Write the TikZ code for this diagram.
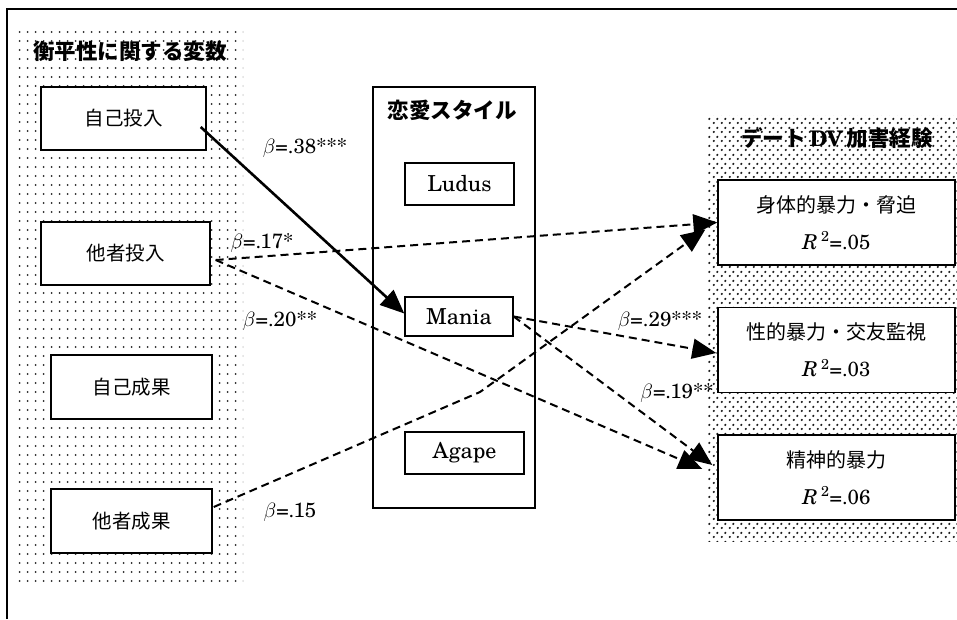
\documentclass[tikz,border=0pt]{standalone}
\usepackage{fontspec}
% Century-like serif for the Latin text
\setmainfont{texgyreschola-regular.otf}[
  BoldFont=texgyreschola-bold.otf,
  ItalicFont=texgyreschola-italic.otf,
  BoldItalicFont=texgyreschola-bolditalic.otf]
\newfontfamily\jp{Noto Sans CJK JP}
\usetikzlibrary{arrows.meta,patterns.meta,calc}

% grid of dots for the left panel
\tikzdeclarepattern{
  name=sparsedots,
  type=uncolored,
  bounding box={(0pt,0pt) and (8pt,8.5pt)},
  tile size={(8pt,8.5pt)},
  code={\fill (4pt,4.25pt) circle[radius=1.1pt];}
}
% staggered, denser dots for the right panel
\tikzdeclarepattern{
  name=densedots,
  type=uncolored,
  bounding box={(0pt,0pt) and (8pt,9pt)},
  tile size={(8pt,9pt)},
  code={\fill (2pt,2.25pt) circle[radius=1.35pt];
        \fill (6pt,6.75pt) circle[radius=1.35pt];}
}

\newcommand{\rsq}[1]{\textit{R}\,\textsuperscript{2}=.#1}

\begin{document}
\begin{tikzpicture}[x=1pt,y=-1pt,
  box/.style={draw, line width=1.4pt, fill=white, inner sep=0pt, align=center},
  jpbox/.style={box, font=\jp\fontsize{19.5}{23}\selectfont},
  latbox/.style={box, font=\fontsize{22}{26}\selectfont},
  outbox/.style={box, minimum width=237pt, minimum height=85pt,
                 font=\fontsize{20.5}{37}\selectfont},
  paneltitle/.style={font=\jp\bfseries\fontsize{21.5}{25}\selectfont, inner sep=0pt},
  coef/.style={font=\fontsize{20.5}{24}\selectfont, inner sep=0pt},
  head/.style={-{Triangle[length=24pt,width=20pt]}},
  solidlink/.style={head, line width=2.6pt},
  dashlink/.style={head, line width=2pt, dash pattern=on 8pt off 5pt}
]
\useasboundingbox (0,0) rectangle (957,619);

% outer frame (top and left edges)
\draw[line width=1.6pt] (7,619) -- (7,9) -- (957,9);

% dotted panels
\fill[pattern=sparsedots, pattern color=black!85] (18,30) rectangle (243,585);
\fill[pattern=densedots, pattern color=black!90] (707,115) rectangle (957,541);

% panel titles
\node[paneltitle] (ttl1) at (130,51) {衡平性に関する変数};
\node[paneltitle] (ttl3) at (837,138) {デート\,{\rmfamily\bfseries DV}\,加害経験};

% love-style frame
\draw[line width=1.4pt] (373,87) rectangle (535,508);
\node[paneltitle] (ttl2) at (452,110) {恋愛スタイル};

% equity variables
\node[jpbox, minimum width=165pt, minimum height=63pt] (ji) at (123.5,118.5) {自己投入};
\node[jpbox, minimum width=169pt, minimum height=63pt] (ta) at (125.5,253.5) {他者投入};
\node[jpbox, minimum width=161pt, minimum height=64pt] (jk) at (131.5,387) {自己成果};
\node[jpbox, minimum width=161pt, minimum height=64pt] (tk) at (131.5,521) {他者成果};

% love styles
\node[latbox, minimum width=109pt, minimum height=42pt] (ludus) at (459.5,184) {Ludus};
\node[latbox, minimum width=108pt, minimum height=39pt] (mania) at (459,316.5) {Mania};
\node[latbox, minimum width=119pt, minimum height=42pt] (agape) at (464.5,453) {Agape};

% dating-violence outcomes
\node[outbox] (b1) at (836.5,222.5) {{\jp\fontsize{20}{37}\selectfont 身体的暴力・脅迫}\\\rsq{05}};
\node[outbox] (b2) at (836.5,350) {{\jp\fontsize{20}{37}\selectfont 性的暴力・交友監視}\\\rsq{03}};
\node[outbox] (b3) at (836.5,477.5) {{\jp\fontsize{20}{37}\selectfont 精神的暴力}\\\rsq{06}};

% connector end points
\coordinate (jiout) at ($(ji.east)+(-6,8.5)$);
\coordinate (taout) at ($(ta.east)+(5,6.5)$);
\coordinate (tkout) at ($(tk.east)+(1,-14)$);
\coordinate (tkbend) at (480,392);
\coordinate (maniain) at ($(mania.west)+(0,-3)$);
\coordinate (b1tk) at ($(b1.west)+(-12,7)$);
\coordinate (b2in) at ($(b2.west)+(-1,3)$);
\coordinate (b3ta) at ($(b3.west)+(-15,-8.5)$);
\coordinate (b3ma) at ($(b3.west)+(-5,-12.5)$);

% paths
\draw[solidlink] (jiout) -- (maniain);
\draw[dashlink] (taout) -- (b1.west);
\draw[dashlink] (taout) -- (b3ta);
\draw[dashlink] (tkout) -- (tkbend) -- (b1tk);
\draw[dashlink] (mania.east) -- (b2in);
\draw[dashlink] (mania.east) -- (b3ma);

% path coefficients
\node[coef] (c1) at (305,148) {$\beta$=.38***};
\node[coef] (c2) at (262,243) {$\beta$=.17*};
\node[coef] (c3) at (280,321) {$\beta$=.20**};
\node[coef] (c4) at (290,512) {$\beta$=.15};
\node[coef] (c5) at (660,321) {$\beta$=.29***};
\node[coef] (c6) at (677,393) {$\beta$=.19**};
\end{tikzpicture}
\end{document}
